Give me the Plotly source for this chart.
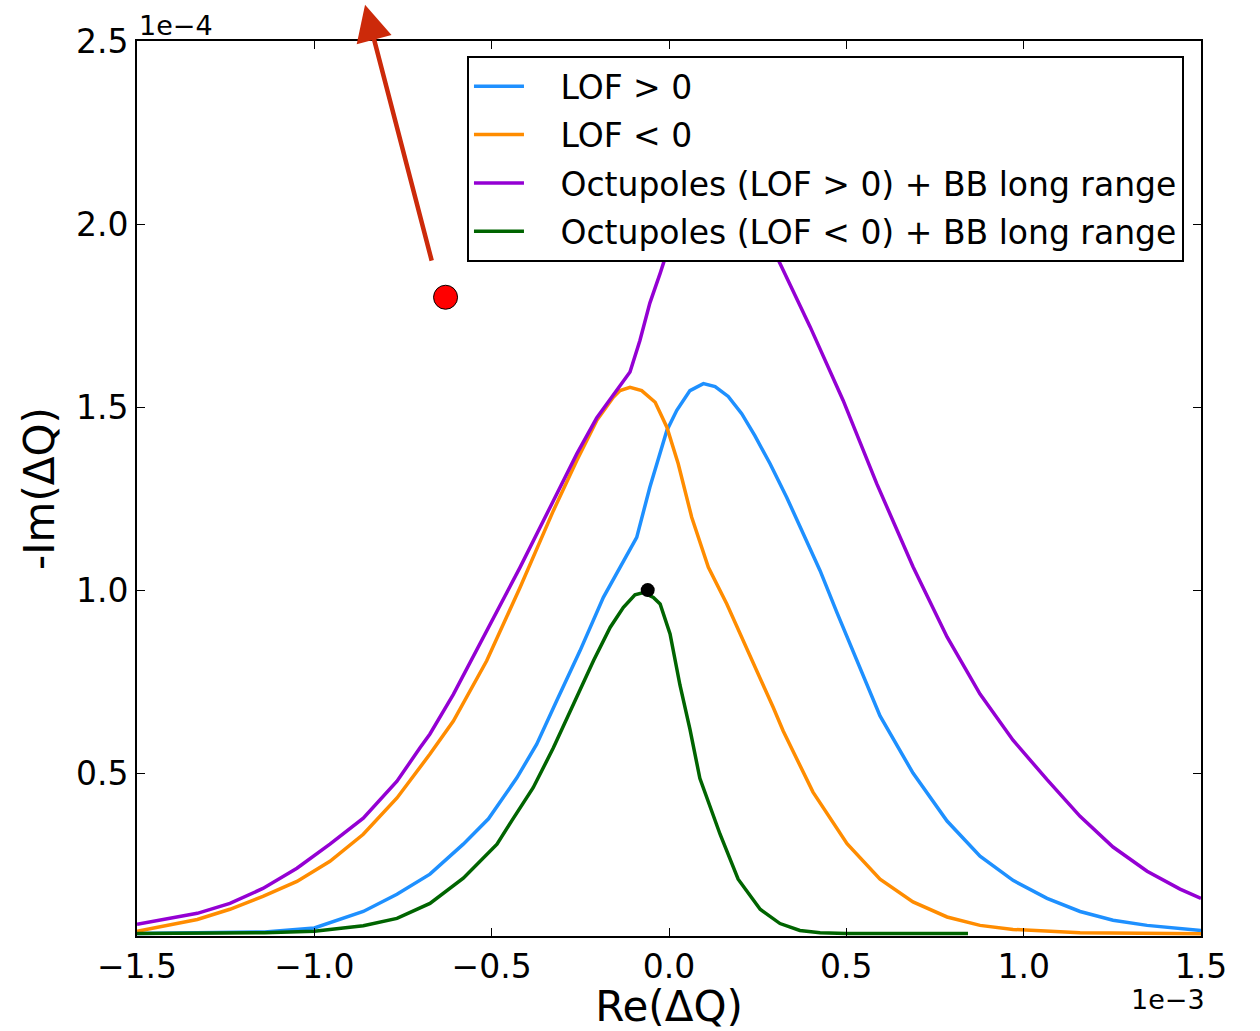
import plotly.graph_objects as go

# x values in units of 1e-3, y values in units of 1e-4
lof_pos_x = [-1.5, -1.33, -1.14, -1.0, -0.862, -0.767, -0.674, -0.58, -0.509, -0.429, -0.373,
             -0.317, -0.251, -0.185, -0.138, -0.091, -0.054, -0.006, 0.022, 0.059, 0.097, 0.130,
             0.167, 0.205, 0.242, 0.285, 0.332, 0.379, 0.426, 0.473, 0.520, 0.595, 0.688, 0.784,
             0.877, 0.970, 1.066, 1.159, 1.252, 1.348, 1.5]
lof_pos_y = [0.062, 0.063, 0.066, 0.077, 0.122, 0.169, 0.224, 0.306, 0.375, 0.487, 0.579,
             0.697, 0.834, 0.980, 1.062, 1.144, 1.281, 1.436, 1.491, 1.545, 1.564, 1.556,
             1.529, 1.482, 1.422, 1.345, 1.253, 1.153, 1.053, 0.94, 0.83, 0.656, 0.50, 0.369,
             0.273, 0.207, 0.158, 0.122, 0.098, 0.084, 0.070]

lof_neg_x = [-1.5, -1.427, -1.33, -1.238, -1.145, -1.049, -0.956, -0.862, -0.767, -0.674, -0.608,
             -0.514, -0.420, -0.326, -0.260, -0.204, -0.157, -0.138, -0.110, -0.077, -0.039,
             -0.006, 0.026, 0.064, 0.111, 0.163, 0.210, 0.257, 0.294, 0.322, 0.406, 0.502, 0.595,
             0.688, 0.784, 0.877, 0.970, 1.159, 1.5]
lof_neg_y = [0.068, 0.081, 0.1, 0.128, 0.163, 0.204, 0.259, 0.333, 0.432, 0.552, 0.642,
             0.807, 1.007, 1.217, 1.354, 1.463, 1.527, 1.545, 1.554, 1.545, 1.513,
             1.445, 1.345, 1.199, 1.062, 0.962, 0.861, 0.761, 0.679, 0.615, 0.448, 0.307, 0.21,
             0.148, 0.107, 0.084, 0.073, 0.064, 0.061]

oct_pos_x = [-1.5, -1.427, -1.33, -1.238, -1.145, -1.049, -0.956, -0.862, -0.767, -0.702, -0.674,
             -0.608, -0.514, -0.420, -0.326, -0.260, -0.204, -0.157, -0.110, -0.082, -0.054,
             -0.025, 0.03, 0.1, 0.2, 0.313, 0.398, 0.491, 0.586, 0.688, 0.784, 0.877, 0.970,
             1.066, 1.159, 1.252, 1.348, 1.441, 1.5]
oct_pos_y = [0.087, 0.1, 0.117, 0.144, 0.185, 0.24, 0.306, 0.377, 0.478, 0.569, 0.607,
             0.715, 0.889, 1.062, 1.244, 1.372, 1.470, 1.532, 1.596, 1.682, 1.784,
             1.865, 2.03, 2.17, 2.12, 1.892, 1.719, 1.518, 1.290, 1.064, 0.872, 0.716, 0.59,
             0.482, 0.382, 0.298, 0.232, 0.183, 0.158]

oct_neg_x = [-1.5, -1.33, -1.14, -1.0, -0.862, -0.767, -0.674, -0.58, -0.485, -0.444, -0.383,
             -0.326, -0.270, -0.213, -0.166, -0.129, -0.096, -0.072, -0.044, -0.025, 0.003,
             0.031, 0.059, 0.087, 0.144, 0.195, 0.257, 0.313, 0.369, 0.426, 0.5, 0.843]
oct_neg_y = [0.062, 0.062, 0.064, 0.068, 0.083, 0.103, 0.144, 0.213, 0.306, 0.369, 0.460,
             0.569, 0.688, 0.807, 0.898, 0.952, 0.987, 0.993, 0.980, 0.962, 0.880,
             0.740, 0.620, 0.486, 0.333, 0.21, 0.128, 0.089, 0.070, 0.064, 0.062, 0.062]

black_pt_x = [-0.06]
black_pt_y = [1.0]
red_pt_x = [-0.63]
red_pt_y = [1.80]
arrow_tail = (-0.668, 1.896)
arrow_tip = (-0.857, 2.599)

labels = ["LOF > 0", "LOF < 0",
          "Octupoles (LOF > 0) + BB long range",
          "Octupoles (LOF < 0) + BB long range"]
colors = ["#1e90ff", "#ff8c00", "#9400d3", "#006400"]

FONT = "DejaVu Sans"
PAD = "\u00a0\u00a0\u00a0"
fig = go.Figure()
for i, (xs, ys, name, c) in enumerate(zip([lof_pos_x, lof_neg_x, oct_pos_x, oct_neg_x],
                                          [lof_pos_y, lof_neg_y, oct_pos_y, oct_neg_y],
                                          labels, colors)):
    fig.add_trace(go.Scatter(x=xs, y=ys, mode="lines", name=PAD + name, legendgroup=f"g{i}",
                             line=dict(color=c, width=3.5)))

fig.add_trace(go.Scatter(x=black_pt_x, y=black_pt_y, mode="markers", showlegend=False,
                         marker=dict(color="black", size=14)))
fig.add_trace(go.Scatter(x=red_pt_x, y=red_pt_y, mode="markers", showlegend=False,
                         marker=dict(color="#ff0000", size=24, line=dict(color="black", width=1))))

fig.add_annotation(x=arrow_tip[0], y=arrow_tip[1], ax=arrow_tail[0], ay=arrow_tail[1],
                   xref="x", yref="y", axref="x", ayref="y", text="", showarrow=True,
                   arrowhead=2, arrowsize=1.6, arrowwidth=4.5, arrowcolor="#cc2a0a")

fig.add_annotation(text="1e\u22124", xref="paper", yref="paper", x=0, y=1,
                   xanchor="left", yanchor="bottom", showarrow=False, yshift=-2,
                   font=dict(family=FONT, size=27, color="black"))
fig.add_annotation(text="1e\u22123", xref="paper", yref="paper", x=1, y=0,
                   xanchor="right", yanchor="top", showarrow=False, yshift=-46, xshift=6,
                   font=dict(family=FONT, size=27, color="black"))

axis_common = dict(showline=True, linecolor="black", linewidth=2, mirror="allticks",
                   ticks="inside", ticklen=8, tickwidth=1, tickcolor="black",
                   showgrid=False, zeroline=False, automargin=False,
                   tickfont=dict(family=FONT, size=33, color="black"))

fig.update_xaxes(range=[-1.5, 1.5], tickvals=[-1.5, -1.0, -0.5, 0.0, 0.5, 1.0, 1.5],
                 tickformat=".1f",
                 title=dict(text="Re(\u0394Q)", font=dict(family=FONT, size=42, color="black"),
                            standoff=6),
                 **axis_common)
fig.update_yaxes(range=[0.055, 2.5], tickvals=[0.5, 1.0, 1.5, 2.0, 2.5], tickformat=".1f",
                 title=dict(text="-Im(\u0394Q)", font=dict(family=FONT, size=42, color="black"),
                            standoff=8),
                 **axis_common)

fig.update_layout(
    width=1260, height=1031,
    margin=dict(l=137, r=59, t=41, b=95),
    paper_bgcolor="white", plot_bgcolor="white",
    font=dict(family=FONT, color="black"),
    legend=dict(x=0.984, y=0.983, xanchor="right", yanchor="top",
                bgcolor="white", bordercolor="black", borderwidth=2,
                font=dict(family=FONT, size=33, color="black"),
                itemwidth=50, tracegroupgap=2.5, traceorder="grouped"),
)

fig.write_html("out.html", config={"displayModeBar": False})
